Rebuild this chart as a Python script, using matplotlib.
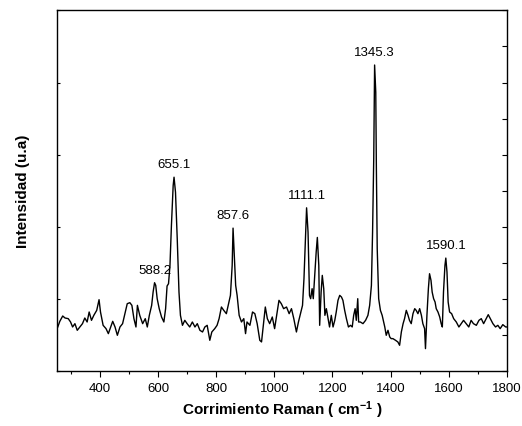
import numpy as np
import matplotlib
matplotlib.use('Agg')
import matplotlib.pyplot as plt
from matplotlib.ticker import MultipleLocator, NullFormatter

plt.rcParams['font.family'] = ['Liberation Sans', 'DejaVu Sans']
plt.rcParams['mathtext.default'] = 'regular'

# espectro Raman (cm-1, intensidad u.a.)
wavenumber = [
    255, 262, 272, 280, 291, 299, 306, 314, 322, 331, 340, 348, 356, 363, 371,
    379, 389, 397, 402, 411, 421, 429, 437, 444, 452, 460, 469, 478, 486, 494,
    503, 510, 517, 524, 529, 537, 547, 556, 563, 570, 578, 583, 588, 592, 597,
    604, 612, 620, 626, 631, 636, 641, 646, 652, 655, 660, 666, 672, 677, 684,
    692, 700, 709, 718, 727, 735, 744, 753, 761, 769, 778, 785, 795, 803, 810,
    818, 826, 835, 842, 849, 855, 858, 863, 867, 872, 879, 887, 895, 901, 906,
    916, 925, 933, 941, 950, 956, 961, 969, 976, 984, 993, 1001, 1010, 1016, 1024,
    1032, 1042, 1051, 1059, 1067, 1076, 1083, 1090, 1097, 1102, 1107, 1111, 1116, 1121, 1125,
    1130, 1134, 1139, 1144, 1148, 1153, 1156, 1161, 1165, 1170, 1174, 1179, 1185, 1190, 1196,
    1202, 1208, 1213, 1219, 1225, 1231, 1236, 1242, 1248, 1255, 1262, 1268, 1273, 1278, 1282,
    1287, 1290, 1296, 1305, 1314, 1322, 1328, 1334, 1338, 1342, 1344, 1345, 1349, 1351, 1354,
    1359, 1365, 1371, 1380, 1385, 1391, 1397, 1402, 1408, 1417, 1425, 1431, 1437, 1443, 1448,
    1454, 1460, 1465, 1471, 1477, 1483, 1488, 1494, 1500, 1506, 1511, 1517, 1520, 1525, 1530,
    1534, 1539, 1543, 1548, 1553, 1557, 1563, 1569, 1574, 1578, 1582, 1587, 1590, 1594, 1598,
    1603, 1610, 1617, 1626, 1635, 1643, 1651, 1660, 1669, 1677, 1685, 1695, 1704, 1712, 1720,
    1729, 1736, 1743, 1752, 1761, 1769, 1777, 1786, 1796, 1800,
]
intensity = [
    132, 149, 165, 159, 157, 147, 132, 142, 122, 132, 142, 159, 147, 177, 152,
    167, 182, 214, 177, 137, 127, 112, 132, 149, 132, 107, 132, 142, 172, 202,
    205, 197, 157, 132, 197, 167, 142, 157, 132, 167, 197, 237, 265, 257, 217,
    187, 162, 147, 187, 255, 262, 317, 437, 557, 582, 537, 397, 237, 167, 137,
    152, 142, 132, 147, 132, 142, 122, 117, 132, 137, 92, 117, 127, 137, 157,
    192, 182, 172, 199, 227, 317, 429, 337, 257, 227, 167, 147, 157, 112, 147,
    137, 177, 172, 142, 92, 87, 127, 192, 157, 142, 162, 127, 177, 212, 202,
    187, 192, 172, 187, 157, 117, 147, 172, 197, 277, 397, 490, 417, 227, 217,
    247, 217, 287, 357, 401, 317, 137, 237, 287, 247, 167, 187, 157, 132, 167,
    132, 152, 177, 212, 227, 222, 212, 182, 157, 132, 137, 132, 167, 187, 152,
    217, 147, 147, 142, 152, 167, 197, 257, 417, 637, 817, 919, 837, 617, 367,
    217, 182, 167, 132, 107, 122, 102, 97, 97, 92, 87, 77, 117, 142, 157,
    182, 167, 152, 142, 172, 187, 182, 172, 187, 167, 142, 127, 67, 167, 247,
    292, 272, 237, 217, 207, 187, 177, 162, 142, 132, 237, 317, 339, 297, 207,
    177, 172, 157, 147, 132, 142, 152, 142, 132, 152, 142, 137, 152, 157, 142,
    157, 169, 157, 142, 132, 137, 127, 139, 132, 132,
]

peak_pos = [588.2, 655.1, 857.6, 1111.1, 1345.3, 1590.1]
peak_labels = ['588.2', '655.1', '857.6', '1111.1', '1345.3', '1590.1']

fig = plt.figure(figsize=(5.22, 4.27), dpi=100)
ax = fig.add_axes([0.109, 0.129, 0.862, 0.845])

ax.plot(wavenumber, intensity, color='black', lw=1.0)

# etiquetas de los picos
for p, lab in zip(peak_pos, peak_labels):
    y = max(intensity[i] for i, w in enumerate(wavenumber) if abs(w - p) < 3)
    ax.annotate(lab, xy=(p, y), xytext=(0, 9.5), textcoords='offset points',
                ha='center', va='center', fontsize=9.5)

ax.set_xlim(252, 1800)
ax.set_ylim(0, 1084)

ax.xaxis.set_major_locator(MultipleLocator(200))
ax.xaxis.set_minor_locator(MultipleLocator(100))
ax.tick_params(axis='x', which='major', direction='out', length=4.5, width=0.8, labelsize=9.5)
ax.tick_params(axis='x', which='minor', direction='out', length=2.5, width=0.8)

ax.yaxis.set_major_locator(MultipleLocator(216.6))
ax.yaxis.set_minor_locator(MultipleLocator(108.3))
ax.yaxis.set_major_formatter(NullFormatter())
ax.tick_params(axis='y', which='major', direction='in', length=2, width=0.8, left=True)
ax.tick_params(axis='y', which='minor', left=False)

sec = ax.secondary_yaxis('right')
sec.yaxis.set_major_locator(MultipleLocator(108.3))
sec.yaxis.set_major_formatter(NullFormatter())
sec.tick_params(direction='in', length=3.5, width=0.8)
sec.spines['right'].set_visible(False)

for s in ax.spines.values():
    s.set_linewidth(1.0)

ax.set_xlabel(r'Corrimiento Raman ( cm$^{-1}$ )', fontsize=11, fontweight='bold', labelpad=3)
ax.set_ylabel('Intensidad (u.a)', fontsize=11, fontweight='bold', labelpad=14)

fig.savefig('out.png', dpi=100)
